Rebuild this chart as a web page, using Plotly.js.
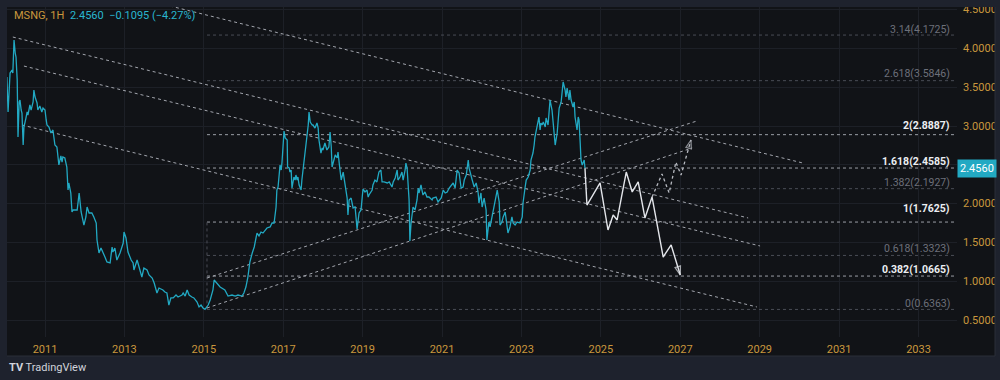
<!DOCTYPE html>
<html>
<head>
<meta charset="utf-8">
<script src="https://cdn.plot.ly/plotly-3.0.1.min.js"></script>
<style>html,body{margin:0;padding:0;background:#0f1115;}#chart{width:1000px;height:380px;}</style>
</head>
<body>
<div id="chart"></div>
<script>
// ---------- DATA ----------
const years = [
2010.04,2010.07,2010.12,2010.17,2010.19,2010.22,2010.25,2010.27,2010.30,2010.32,
2010.35,2010.37,2010.40,2010.42,2010.45,2010.47,2010.52,2010.55,2010.57,2010.62,
2010.65,2010.70,2010.72,2010.75,2010.80,2010.82,2010.87,2010.92,2010.95,2011.00,
2011.03,2011.05,2011.10,2011.15,2011.20,2011.23,2011.25,2011.30,2011.33,2011.35,
2011.40,2011.43,2011.45,2011.50,2011.55,2011.58,2011.60,2011.65,2011.68,2011.71,
2011.81,2011.86,2011.91,2011.96,2011.98,2012.03,2012.06,2012.11,2012.18,2012.23,
2012.29,2012.31,2012.36,2012.41,2012.46,2012.51,2012.56,2012.64,2012.69,2012.71,
2012.76,2012.81,2012.89,2012.97,2012.99,2013.04,2013.09,2013.17,2013.22,2013.24,
2013.32,2013.37,2013.44,2013.49,2013.57,2013.62,2013.70,2013.75,2013.82,2013.87,
2013.97,2014.02,2014.07,2014.12,2014.17,2014.23,2014.30,2014.35,2014.45,2014.48,
2014.53,2014.58,2014.63,2014.70,2014.75,2014.83,2014.88,2014.93,2014.98,2015.03,
2015.11,2015.16,2015.23,2015.26,2015.33,2015.41,2015.53,2015.61,2015.71,2015.79,
2015.86,2015.96,2016.01,2016.06,2016.11,2016.14,2016.16,2016.22,2016.27,2016.32,
2016.34,2016.39,2016.44,2016.49,2016.54,2016.59,2016.67,2016.72,2016.77,2016.82,
2016.84,2016.87,2016.92,2016.95,2016.97,2017.00,2017.02,2017.05,2017.10,2017.11,
2017.15,2017.17,2017.20,2017.22,2017.27,2017.30,2017.32,2017.35,2017.37,2017.40,
2017.45,2017.47,2017.50,2017.52,2017.55,2017.60,2017.63,2017.65,2017.68,2017.73,
2017.75,2017.80,2017.85,2017.88,2017.90,2017.95,2017.98,2018.00,2018.05,2018.10,
2018.15,2018.18,2018.21,2018.23,2018.26,2018.31,2018.36,2018.38,2018.41,2018.46,
2018.51,2018.56,2018.61,2018.63,2018.66,2018.71,2018.76,2018.81,2018.83,2018.86,
2018.91,2018.96,2018.99,2019.01,2019.06,2019.11,2019.14,2019.16,2019.24,2019.26,
2019.31,2019.36,2019.41,2019.46,2019.49,2019.54,2019.62,2019.67,2019.74,2019.77,
2019.82,2019.87,2019.89,2019.94,2019.99,2020.02,2020.07,2020.09,2020.12,2020.14,
2020.17,2020.19,2020.22,2020.27,2020.32,2020.37,2020.40,2020.42,2020.47,2020.52,
2020.57,2020.62,2020.67,2020.75,2020.77,2020.85,2020.90,2020.98,2021.03,2021.08,
2021.13,2021.18,2021.25,2021.28,2021.33,2021.35,2021.38,2021.43,2021.45,2021.48,
2021.53,2021.56,2021.61,2021.63,2021.66,2021.68,2021.73,2021.76,2021.81,2021.86,
2021.91,2021.93,2021.98,2022.01,2022.06,2022.11,2022.13,2022.18,2022.21,2022.26,
2022.31,2022.36,2022.39,2022.44,2022.46,2022.51,2022.54,2022.59,2022.64,2022.66,
2022.71,2022.76,2022.79,2022.84,2022.89,2022.97,2023.02,2023.04,2023.09,2023.12,
2023.17,2023.22,2023.24,2023.29,2023.32,2023.34,2023.39,2023.42,2023.44,2023.47,
2023.49,2023.52,2023.55,2023.60,2023.62,2023.67,2023.70,2023.72,2023.77,2023.80,
2023.82,2023.85,2023.90,2023.92,2023.95,2024.00,2024.02,2024.05,2024.10,2024.12,
2024.15,2024.20,2024.22,2024.25,2024.30,2024.33,2024.35,2024.40,2024.43,2024.45,
2024.48,2024.50,2024.53,2024.58,2024.60
];
const prices = [
3.632,3.181,3.683,3.722,3.683,4.109,3.941,3.889,3.593,2.858,
3.310,3.335,3.206,3.168,2.755,2.987,3.103,3.181,3.142,3.271,
3.206,3.310,3.464,3.374,3.297,3.206,3.258,3.181,3.232,3.206,
3.078,3.013,2.987,2.910,2.949,2.858,2.755,2.730,2.588,2.498,
2.614,2.536,2.601,2.588,2.472,2.175,2.266,2.137,1.892,1.918,
1.918,2.137,1.892,1.763,1.724,1.828,1.956,1.879,1.879,1.828,
1.750,1.531,1.364,1.428,1.376,1.312,1.248,1.235,1.441,1.376,
1.428,1.273,1.364,1.492,1.634,1.557,1.376,1.273,1.235,1.145,
1.273,1.170,1.054,1.170,1.145,1.080,1.041,0.977,0.848,0.912,
0.887,0.861,0.848,0.693,0.784,0.784,0.822,0.797,0.822,0.848,
0.809,0.887,0.822,0.797,0.784,0.732,0.668,0.693,0.655,0.636,
0.693,0.758,0.887,1.016,0.977,0.925,0.887,0.809,0.822,0.809,
0.822,0.809,0.848,0.925,1.054,1.145,1.248,1.364,1.441,1.570,
1.621,1.583,1.634,1.621,1.660,1.686,1.699,1.750,1.750,1.956,
2.175,2.214,2.498,2.433,2.536,2.781,2.936,2.846,2.820,2.472,
2.459,2.407,2.433,2.201,2.343,2.304,2.369,2.304,2.343,2.240,
2.175,2.304,2.433,2.562,2.665,2.858,3.013,3.181,3.052,3.013,
3.013,2.974,3.039,2.974,2.820,2.652,2.717,2.691,2.781,2.691,
2.730,2.923,2.730,2.472,2.536,2.627,2.588,2.665,2.523,2.304,
2.407,2.201,2.072,1.853,2.047,2.072,1.944,1.956,1.853,1.673,
1.879,1.918,2.085,2.188,2.150,2.175,2.085,2.111,2.175,2.240,
2.304,2.279,2.407,2.433,2.279,2.279,2.266,2.279,2.214,2.279,
2.330,2.433,2.304,2.343,2.407,2.304,2.433,2.523,2.459,2.240,
2.047,1.518,1.750,1.956,1.918,2.047,2.201,2.137,2.240,2.111,
2.150,2.085,2.085,2.047,2.072,2.085,2.021,2.072,2.175,2.137,
2.150,2.201,2.240,2.266,2.201,2.279,2.433,2.395,2.304,2.201,
2.214,2.304,2.369,2.433,2.562,2.459,2.343,2.304,2.214,2.266,
2.137,2.008,2.137,1.956,2.072,1.918,1.531,1.763,1.699,1.828,
1.918,2.085,2.175,2.021,1.724,1.763,1.828,1.892,1.699,1.621,
1.699,1.828,1.750,1.724,1.763,1.750,1.828,2.008,2.201,2.304,
2.343,2.433,2.562,2.652,2.755,2.858,2.987,3.078,3.116,2.949,
3.039,3.013,3.052,2.987,3.103,3.013,3.245,3.335,3.206,3.039,
2.949,2.755,2.910,3.039,3.232,3.310,3.426,3.567,3.464,3.374,
3.490,3.335,3.464,3.335,3.245,3.310,3.116,2.949,3.116,3.078,
2.781,2.562,2.498,2.562,2.456
];

// projected paths
const bearYears  = [2024.60,2024.65,2024.98,2025.18,2025.31,2025.41,2025.64,2025.79,2025.94,2026.11,2026.29,2026.57,2026.77,2027.00];
const bearPrices = [2.456,1.982,2.266,1.660,1.853,1.789,2.407,2.150,2.279,1.815,2.085,1.312,1.467,1.080];
const bullYears  = [2026.29,2026.54,2026.72,2026.89,2027.02,2027.27];
const bullPrices = [2.085,2.382,2.137,2.536,2.369,2.820];

// trend lines (start / end)
const trendStartYear  = [2014.15,2010.19,2010.47,2010.42,2015.08,2015.08];
const trendStartPrice = [4.547,4.147,3.773,3.013,1.041,0.655];
const trendEndYear    = [2030.09,2028.71,2029.01,2028.93,2027.42,2027.30];
const trendEndPrice   = [2.523,1.815,1.454,0.668,3.065,2.717];

// fibonacci levels
const fibRatios = ['0','0.382','0.618','1','1.382','1.618','2','2.618','3.14'];
const fibPrices = [0.6363,1.0665,1.3323,1.7625,2.1927,2.4585,2.8887,3.5846,4.1725];
const fibBright = [false,true,false,true,false,true,true,false,false];
const fibStartYear = 2015.08;
const fibEndYear = 2034.5;

// axis ticks
const xTickVals = [2011,2013,2015,2017,2019,2021,2023,2025,2027,2029,2031,2033];
const xTickText = ['2011','2013','2015','2017','2019','2021','2023','2025','2027','2029','2031','2033'];
const yTickVals = [0.5,1.0,1.5,2.0,2.5,3.0,3.5,4.0,4.5];
const yTickText = ['0.5000','1.0000','1.5000','2.0000','2.5000','3.0000','3.5000','4.0000','4.5000'];

const lastPrice = 2.4560;
const headerSymbol = 'MSNG, 1H';
const headerQuote = '2.4560  −0.1095 (−4.27%)';

// ---------- STYLE ----------
const GOLD = '#c9973d';
const CYAN = '#22a9c3';
const FONT = 'Roboto, "DejaVu Sans", sans-serif';
const labelLift = [6,7,7,14,6,7,9,7,6];

const traces = [];

// fib lines
fibPrices.forEach((p, i) => {
  traces.push({
    x: [fibStartYear, fibEndYear], y: [p, p], mode: 'lines', hoverinfo: 'skip',
    line: {color: fibBright[i] ? '#9b9ea6' : '#4a4d56', width: 1, dash: 'dot'}
  });
});
// fib vertical anchor
traces.push({
  x: [fibStartYear, fibStartYear], y: [fibPrices[0], fibPrices[3]], mode: 'lines', hoverinfo: 'skip',
  line: {color: '#4a4d56', width: 1, dash: 'dot'}
});

// trend lines
trendStartYear.forEach((t, i) => {
  traces.push({
    x: [t, trendEndYear[i]], y: [trendStartPrice[i], trendEndPrice[i]], mode: 'lines', hoverinfo: 'skip',
    line: {color: '#a3a6ae', width: 1, dash: 'dot'}
  });
});

// price
traces.push({x: years, y: prices, mode: 'lines', hoverinfo: 'skip', line: {color: CYAN, width: 1.3}});

// projections
traces.push({x: bearYears, y: bearPrices, mode: 'lines', hoverinfo: 'skip', line: {color: '#e3e5ea', width: 1.4}});
traces.push({x: bullYears, y: bullPrices, mode: 'lines', hoverinfo: 'skip', line: {color: '#b8bbc2', width: 1.3, dash: 'dot'}});

// arrowheads as oriented markers on the final point of each path
function arrowMarker(xs, ys, color) {
  const n = xs.length;
  return {
    x: xs.slice(n - 2), y: ys.slice(n - 2), mode: 'markers', hoverinfo: 'skip',
    marker: {symbol: 'arrow-open', angleref: 'previous', size: [0, 9], color: color,
             line: {color: color, width: 1.3}}
  };
}
traces.push(arrowMarker(bearYears, bearPrices, '#e3e5ea'));
traces.push(arrowMarker(bullYears, bullPrices, '#b8bbc2'));

// annotations
const ann = [];
fibPrices.forEach((p, i) => {
  ann.push({
    xref: 'paper', x: (952 - 7) / 950, xanchor: 'right', yref: 'y', y: p, yanchor: 'middle', yshift: labelLift[i],
    text: fibRatios[i] + '(' + p.toFixed(4) + ')', showarrow: false,
    font: {family: FONT, size: 10.5, color: fibBright[i] ? '#eceef2' : '#6d707a', weight: fibBright[i] ? 'bold' : 'normal'}
  });
});
// last price badge
ann.push({
  xref: 'paper', x: 1.0, xanchor: 'left', yref: 'y', y: lastPrice, yanchor: 'middle',
  text: lastPrice.toFixed(4), showarrow: false, bgcolor: CYAN, borderpad: 2,
  font: {family: FONT, size: 11, color: '#ffffff'}
});
// header
ann.push({
  xref: 'paper', x: (12 - 7) / 950, xanchor: 'left', yref: 'paper', y: (337 - 16) / 330, yanchor: 'middle',
  text: '<span style="color:' + GOLD + '">' + headerSymbol + '</span>  <span style="color:#29b6cf">' + headerQuote + '</span>',
  showarrow: false, font: {family: FONT, size: 11, color: GOLD}
});
// TradingView mark
ann.push({
  xref: 'paper', x: (7 - 7) / 950, xanchor: 'left', yref: 'paper', y: (337 - 367) / 330, yanchor: 'middle',
  text: '<b>TV</b> TradingView', showarrow: false, font: {family: FONT, size: 11, color: '#d1d4dc'}
});

// frame strips
const FRAME = '#1e222d';
const px = v => (v - 7) / 950, py = v => (337 - v) / 330;
const shapes = [
  {type: 'rect', xref: 'paper', yref: 'paper', x0: px(0), x1: px(7), y0: py(380), y1: py(0), fillcolor: FRAME, line: {width: 0}},
  {type: 'rect', xref: 'paper', yref: 'paper', x0: px(995), x1: px(1000), y0: py(380), y1: py(0), fillcolor: FRAME, line: {width: 0}},
  {type: 'rect', xref: 'paper', yref: 'paper', x0: px(0), x1: px(1000), y0: py(7), y1: py(0), fillcolor: FRAME, line: {width: 0}},
  {type: 'rect', xref: 'paper', yref: 'paper', x0: px(0), x1: px(1000), y0: py(380), y1: py(356), fillcolor: FRAME, line: {width: 0}},
  {type: 'line', xref: 'paper', yref: 'paper', x0: px(7), x1: px(995), y0: py(356), y1: py(356), line: {color: '#2a2e39', width: 1}},
  {type: 'line', xref: 'paper', yref: 'paper', x0: px(995), x1: px(995), y0: py(356), y1: py(7), line: {color: '#2a2e39', width: 1}}
];

const layout = {
  width: 1000, height: 380,
  margin: {l: 7, r: 43, t: 7, b: 43, pad: 0},
  paper_bgcolor: '#111317', plot_bgcolor: '#111317',
  showlegend: false,
  font: {family: FONT, size: 11, color: GOLD},
  xaxis: {
    range: [2010.043, 2033.97], tickvals: xTickVals, ticktext: xTickText,
    showgrid: true, gridcolor: '#1d2027', gridwidth: 1, zeroline: false, showline: false,
    ticks: '', ticklabelstandoff: 4, tickfont: {family: FONT, size: 11, color: GOLD}, fixedrange: true
  },
  yaxis: {
    range: [0.281, 4.534], side: 'right', tickvals: yTickVals, ticktext: yTickText,
    showgrid: true, gridcolor: '#1d2027', gridwidth: 1, zeroline: false, showline: false,
    ticks: '', ticklabelstandoff: 5, tickfont: {family: FONT, size: 11, color: GOLD}, fixedrange: true
  },
  annotations: ann,
  shapes: shapes
};

Plotly.newPlot('chart', traces, layout, {displayModeBar: false, staticPlot: true});
</script>
</body>
</html>
